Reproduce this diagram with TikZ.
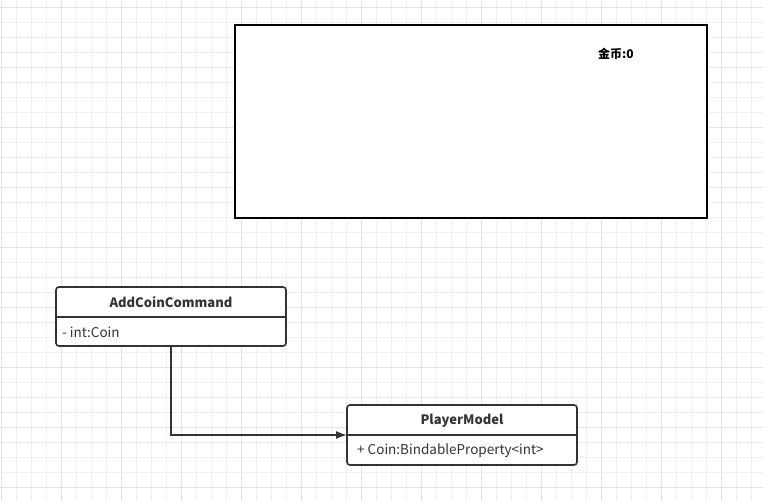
\documentclass[tikz,border=0pt]{standalone}
\usepackage{fontspec}
\setmainfont{Noto Sans CJK SC}
\usetikzlibrary{arrows.meta}
\definecolor{gridminor}{HTML}{EFEFEF}
\definecolor{gridmajor}{HTML}{E2E2E2}
\definecolor{ink}{HTML}{333333}
\begin{document}
\begin{tikzpicture}[x=1pt,y=-1pt,
  box/.style={draw=ink,line width=1.6pt,rounded corners=3pt},
  title/.style={font=\fontsize{13}{15}\selectfont\bfseries,text=ink,inner sep=0pt},
  attr/.style={font=\fontsize{13.5}{15}\selectfont,text=ink,inner sep=0pt,anchor=west},
  conn/.style={draw=ink,line width=1.6pt,-{Latex[length=11pt,width=8pt]}}]
\useasboundingbox (0,0) rectangle (763,501);
\fill[white] (0,0) rectangle (763,501);
\foreach \i in {0,...,50} {\draw[gridminor,line width=1pt] ({1+15*\i},0) -- ({1+15*\i},501);}
\foreach \j in {0,...,33} {\draw[gridminor,line width=1pt] (0,{7+15*\j}) -- (763,{7+15*\j});}
\foreach \i in {0,...,12} {\draw[gridmajor,line width=1pt] ({1+60*\i},0) -- ({1+60*\i},501);}
\foreach \j in {0,...,8} {\draw[gridmajor,line width=1pt] (0,{7+60*\j}) -- (763,{7+60*\j});}
% big frame
\node[draw=black,line width=1.5pt,fill=white,minimum width=472pt,minimum height=193pt,inner sep=0pt] (frame) at (471,121.5) {};
\node[font=\fontsize{12}{14}\selectfont\bfseries,inner sep=0pt,text=black] (coins) at (616,54) {金币:0};
% AddCoinCommand
\node[box,fill=white,minimum width=230pt,minimum height=59pt,inner sep=0pt] (acc) at (171,316.5) {};
\draw[ink,line width=1.6pt] (56,317) -- (286,317);
\node[title] (acct) at (171,302) {AddCoinCommand};
\node[attr] (acca) at (62,332) {- int:Coin};
% PlayerModel
\node[box,fill=white,minimum width=230pt,minimum height=60pt,inner sep=0pt] (pm) at (462,435) {};
\draw[ink,line width=1.6pt] (347,435) -- (577,435);
\node[title] (pmt) at (462,421) {PlayerModel};
\node[attr] (pma) at (357,451) {+ Coin:BindableProperty<int>};
\coordinate (bend) at (171,435);
\coordinate (tgt) at (347,435);
\draw[conn] (acc.south) -- (bend) -- (tgt);
\end{tikzpicture}
\end{document}
